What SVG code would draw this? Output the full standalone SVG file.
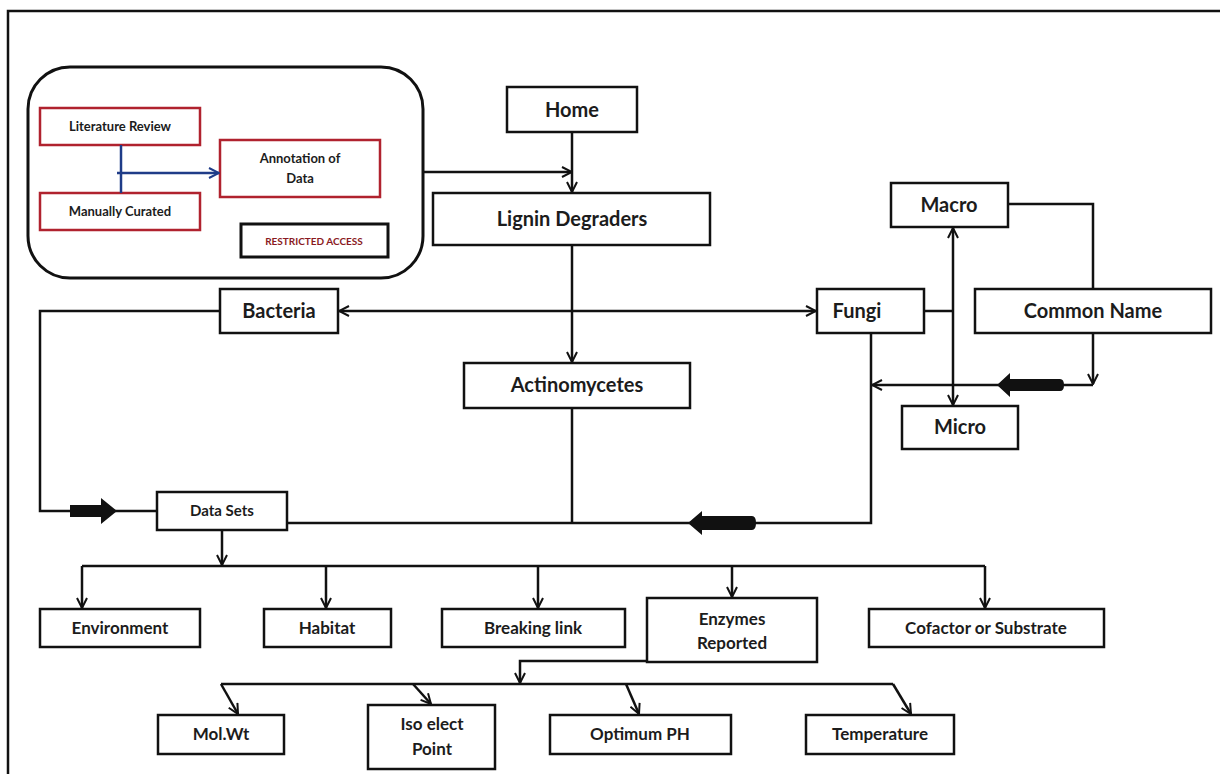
<svg xmlns="http://www.w3.org/2000/svg" width="1220" height="774" viewBox="0 0 1220 774">
<style>
.box{fill:#fff;stroke:#111;stroke-width:2.5}
.rbox{fill:#fff;stroke:#b0222e;stroke-width:2.5}
.t{font-family:Lato,"Open Sans","Liberation Sans",sans-serif;font-weight:bold;fill:#1c1c1c;text-anchor:middle}
.big{font-size:20px}
.mid{font-size:17px}
.sm{font-size:13px}
.ln{fill:none;stroke:#111;stroke-width:2.5}
.blk{fill:#111;stroke:none}
</style>
<defs>
<marker id="ah" viewBox="0 0 12 12" refX="11" refY="6" markerWidth="12" markerHeight="12" markerUnits="userSpaceOnUse" orient="auto-start-reverse">
<path d="M1,1 L11,6 L1,11" fill="none" stroke="#111" stroke-width="2"/>
</marker>
<marker id="ahb" viewBox="0 0 12 12" refX="11" refY="6" markerWidth="12" markerHeight="12" markerUnits="userSpaceOnUse" orient="auto">
<path d="M1,1 L11,6 L1,11" fill="none" stroke="#1f3c88" stroke-width="2"/>
</marker>
</defs>
<rect width="1220" height="774" fill="#fff"/>
<path d="M8,774 L8,11 L1220,11" fill="none" stroke="#111" stroke-width="2.5"/>

<g id="restricted-area">
<rect x="28" y="67" width="395" height="211" rx="42" ry="42" fill="#fff" stroke="#111" stroke-width="3"/>
</g>
<g id="literature-review">
<rect class="rbox" x="40" y="108" width="160" height="37"/>
<text class="t sm" x="120" y="131">Literature Review</text>
</g>
<g id="manually-curated">
<rect class="rbox" x="40" y="193" width="160" height="37"/>
<text class="t sm" x="120" y="216">Manually Curated</text>
</g>
<g id="annotation-of-data">
<rect class="rbox" x="220" y="140" width="160" height="57"/>
<text class="t sm" x="300" y="163">Annotation of</text>
<text class="t sm" x="300" y="183">Data</text>
</g>
<g id="restricted-access">
<rect x="241" y="224" width="147" height="33" fill="#fff" stroke="#111" stroke-width="3"/>
<text class="t" x="314" y="245" font-size="10" style="fill:#8a1a22">RESTRICTED  ACCESS</text>
</g>

<g id="home"><rect class="box" x="507" y="87" width="130" height="45"/><text class="t big" x="572" y="117">Home</text></g>
<g id="lignin-degraders"><rect class="box" x="433" y="193" width="277" height="52"/><text class="t big" x="572" y="226">Lignin Degraders</text></g>
<g id="bacteria"><rect class="box" x="220" y="289" width="118" height="44"/><text class="t big" x="279" y="318">Bacteria</text></g>
<g id="fungi"><rect class="box" x="817" y="289" width="107" height="44"/><text class="t big" x="857" y="318">Fungi</text></g>
<g id="macro"><rect class="box" x="891" y="183" width="117" height="44"/><text class="t big" x="949" y="212">Macro</text></g>
<g id="common-name"><rect class="box" x="975" y="289" width="236" height="44"/><text class="t big" x="1093" y="318">Common Name</text></g>
<g id="micro"><rect class="box" x="902" y="406" width="116" height="43"/><text class="t big" x="960" y="434">Micro</text></g>
<g id="actinomycetes"><rect class="box" x="464" y="363" width="226" height="45"/><text class="t big" x="577" y="392">Actinomycetes</text></g>
<g id="data-sets"><rect class="box" x="157" y="492" width="130" height="38"/><text class="t" font-size="15" x="222" y="516">Data Sets</text></g>

<g id="environment"><rect class="box" x="40" y="609" width="160" height="38"/><text class="t mid" x="120" y="634">Environment</text></g>
<g id="habitat"><rect class="box" x="264" y="609" width="127" height="38"/><text class="t mid" x="327" y="634">Habitat</text></g>
<g id="breaking-link"><rect class="box" x="442" y="609" width="183" height="38"/><text class="t mid" x="533" y="634">Breaking link</text></g>
<g id="enzymes-reported"><rect class="box" x="647" y="598" width="170" height="64"/><text class="t mid" x="732" y="625">Enzymes</text><text class="t mid" x="732" y="649">Reported</text></g>
<g id="cofactor"><rect class="box" x="869" y="609" width="235" height="38"/><text class="t mid" x="986" y="634">Cofactor or Substrate</text></g>

<g id="mol-wt"><rect class="box" x="158" y="715" width="126" height="39"/><text class="t mid" x="221" y="740">Mol.Wt</text></g>
<g id="iso-elect-point"><rect class="box" x="368" y="705" width="127" height="64"/><text class="t mid" x="432" y="730">Iso elect</text><text class="t mid" x="432" y="755">Point</text></g>
<g id="optimum-ph"><rect class="box" x="550" y="715" width="181" height="39"/><text class="t mid" x="640" y="740">Optimum PH</text></g>
<g id="temperature"><rect class="box" x="806" y="715" width="148" height="39"/><text class="t mid" x="880" y="740">Temperature</text></g>

<g id="connectors">
<path d="M121,145 L121,193" fill="none" stroke="#1f3c88" stroke-width="2.5"/>
<path d="M117,173 L219,173" fill="none" stroke="#1f3c88" stroke-width="2.5" marker-end="url(#ahb)"/>
<path class="ln" d="M423,172 L572,172" marker-end="url(#ah)"/>
<path class="ln" d="M572,132 L572,192" marker-end="url(#ah)"/>
<path class="ln" d="M572,245 L572,362" marker-end="url(#ah)"/>
<path class="ln" d="M572,408 L572,523"/>
<path class="ln" d="M339,311 L816,311" marker-start="url(#ah)" marker-end="url(#ah)"/>
<path class="ln" d="M924,311 L953,311"/>
<path class="ln" d="M953,228 L953,405" marker-start="url(#ah)" marker-end="url(#ah)"/>
<path class="ln" d="M1008,204 L1093,204 L1093,289"/>
<path class="ln" d="M1093,333 L1093,384" marker-end="url(#ah)"/>
<path class="ln" d="M1093,385 L872,385" marker-end="url(#ah)"/>
<path class="blk" d="M997,385 L1010,373 L1010,379 L1060,379 Q1064,379 1064,385 Q1064,391 1060,391 L1010,391 L1010,397 Z"/>
<path class="ln" d="M871,333 L871,523 L287,523"/>
<path class="blk" d="M688,523 L702,511 L702,516 L752,516 Q756,516 756,523 Q756,530 752,530 L702,530 L702,535 Z"/>
<path class="ln" d="M220,311 L40,311 L40,511 L156,511"/>
<path class="blk" d="M117,511 L101,498 L101,505 L70,505 L70,517 L101,517 L101,524 Z"/>
<path class="ln" d="M222,530 L222,565" marker-end="url(#ah)"/>
<path class="ln" d="M82,566 L985,566"/>
<path class="ln" d="M82,566 L82,608" marker-end="url(#ah)"/>
<path class="ln" d="M326,566 L326,608" marker-end="url(#ah)"/>
<path class="ln" d="M538,566 L538,608" marker-end="url(#ah)"/>
<path class="ln" d="M732,566 L732,597" marker-end="url(#ah)"/>
<path class="ln" d="M985,566 L985,608" marker-end="url(#ah)"/>
<path class="ln" d="M647,661 L520,661 L520,683" marker-end="url(#ah)"/>
<path class="ln" d="M221,684 L893,684"/>
<path class="ln" d="M221,684 L238,714" marker-end="url(#ah)"/>
<path class="ln" d="M413,684 L431,704" marker-end="url(#ah)"/>
<path class="ln" d="M626,684 L639,714" marker-end="url(#ah)"/>
<path class="ln" d="M893,684 L911,714" marker-end="url(#ah)"/>
</g>
</svg>
